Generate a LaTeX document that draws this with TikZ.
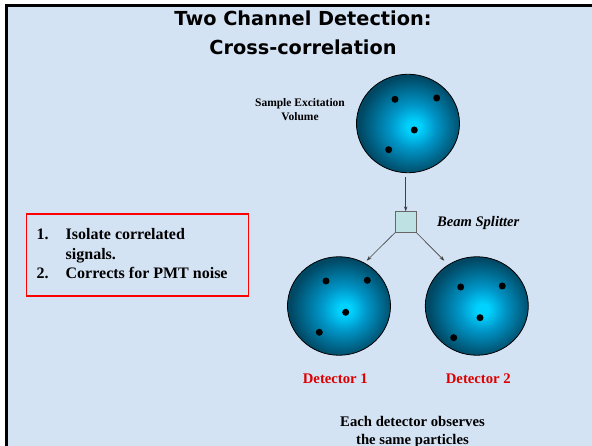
\documentclass[tikz,border=0pt]{standalone}
\usepackage{fontspec}
\setmainfont{Liberation Serif}
\newfontfamily\titlefont{DejaVu Sans}
\usetikzlibrary{arrows.meta,shapes.geometric}
\definecolor{bgblue}{RGB}{212,227,243}
\definecolor{ballin}{RGB}{0,210,255}
\definecolor{ballmid}{RGB}{0,150,200}
\definecolor{ballout}{RGB}{0,72,100}
\definecolor{splitfill}{RGB}{190,226,228}
\definecolor{detred}{RGB}{220,0,0}
\pgfdeclareradialshading{ballshade}{\pgfpoint{3bp}{-2bp}}{color(0bp)=(ballin); color(3bp)=(ballin); color(11bp)=(ballmid); color(25bp)=(ballout); color(50bp)=(ballout)}
\tikzset{
  ball/.style={ellipse, draw=black, line width=0.8pt, minimum width=103pt, minimum height=98.5pt, inner sep=0pt, shading=ballshade},
  dot/.style={circle, fill=black, minimum size=7pt, inner sep=0pt},
  conn/.style={draw=black!75, line width=0.6pt, -{Stealth[length=5pt,width=3.5pt]}},
  lbl/.style={font=\fontsize{11.5}{13.5}\selectfont\bfseries, align=center},
  detlbl/.style={font=\fontsize{14.7}{16}\selectfont\bfseries, text=detred},
}
\begin{document}
\begin{tikzpicture}[x=1pt,y=-1pt]
\useasboundingbox (0,0) rectangle (592,446);
\fill[white] (0,0) rectangle (592,446);
\fill[bgblue] (6.5,5.5) rectangle (592,446);
\draw[black, line width=2.5pt] (6.5,446) -- (6.5,5.5) -- (592,5.5);
% title
\node[font=\titlefont\bfseries\fontsize{19.3}{29}\selectfont, align=center] (title) at (303,33) {Two Channel Detection:\\Cross-correlation};
% top ball
\node[ball] (sample) at (408,123.5) {};
\node[dot] (s1) at (395,99.3) {};
\node[dot] (s2) at (436.7,98) {};
\node[dot] (s3) at (414.3,130) {};
\node[dot] (s4) at (388.7,149.7) {};
\node[lbl] (samplelbl) at (300,109.5) {Sample Excitation\\Volume};
% beam splitter
\node[draw=black!60, line width=0.8pt, fill=splitfill, minimum size=20.5pt, inner sep=0pt] (bs) at (405.7,222) {};
\node[font=\fontsize{14.6}{16}\selectfont\bfseries\itshape, anchor=west] (bslbl) at (433.5,223.3) {Beam Splitter};
% detectors
\node[ball] (d1) at (339,306) {};
\node[dot] (a1) at (326,281) {};
\node[dot] (a2) at (367.3,280.3) {};
\node[dot] (a3) at (345.7,312.3) {};
\node[dot] (a4) at (319.3,332.3) {};
\node[ball] (d2) at (476.8,306) {};
\node[dot] (b1) at (460.7,287) {};
\node[dot] (b2) at (502.3,286) {};
\node[dot] (b3) at (480,317.7) {};
\node[dot] (b4) at (453.7,337.7) {};
\coordinate (top) at (405.7,177);
\coordinate (e1) at (366.7,260.7);
\coordinate (e2) at (444.3,260.7);
\draw[conn] (top) -- (bs.north);
\draw[conn] (bs.south west) -- (e1);
\draw[conn] (bs.south east) -- (e2);
\node[detlbl] (d1lbl) at (335.3,379) {Detector 1};
\node[detlbl] (d2lbl) at (478.3,379) {Detector 2};
\node[font=\fontsize{14.7}{18}\selectfont\bfseries, align=center] (each) at (412.5,431.5) {Each detector observes\\the same particles};
% red box
\draw[red, line width=1.3pt] (26.7,214) rectangle (248.3,296);
\node[font=\fontsize{16}{19.7}\selectfont\bfseries, anchor=north west, align=left, inner sep=0pt] (list) at (36.5,225.5) {%
\begin{tabular}{@{}l@{\hspace{17pt}}l@{}}
1. & Isolate correlated\\
   & signals.\\
2. & Corrects for PMT noise
\end{tabular}};
\end{tikzpicture}
\end{document}
